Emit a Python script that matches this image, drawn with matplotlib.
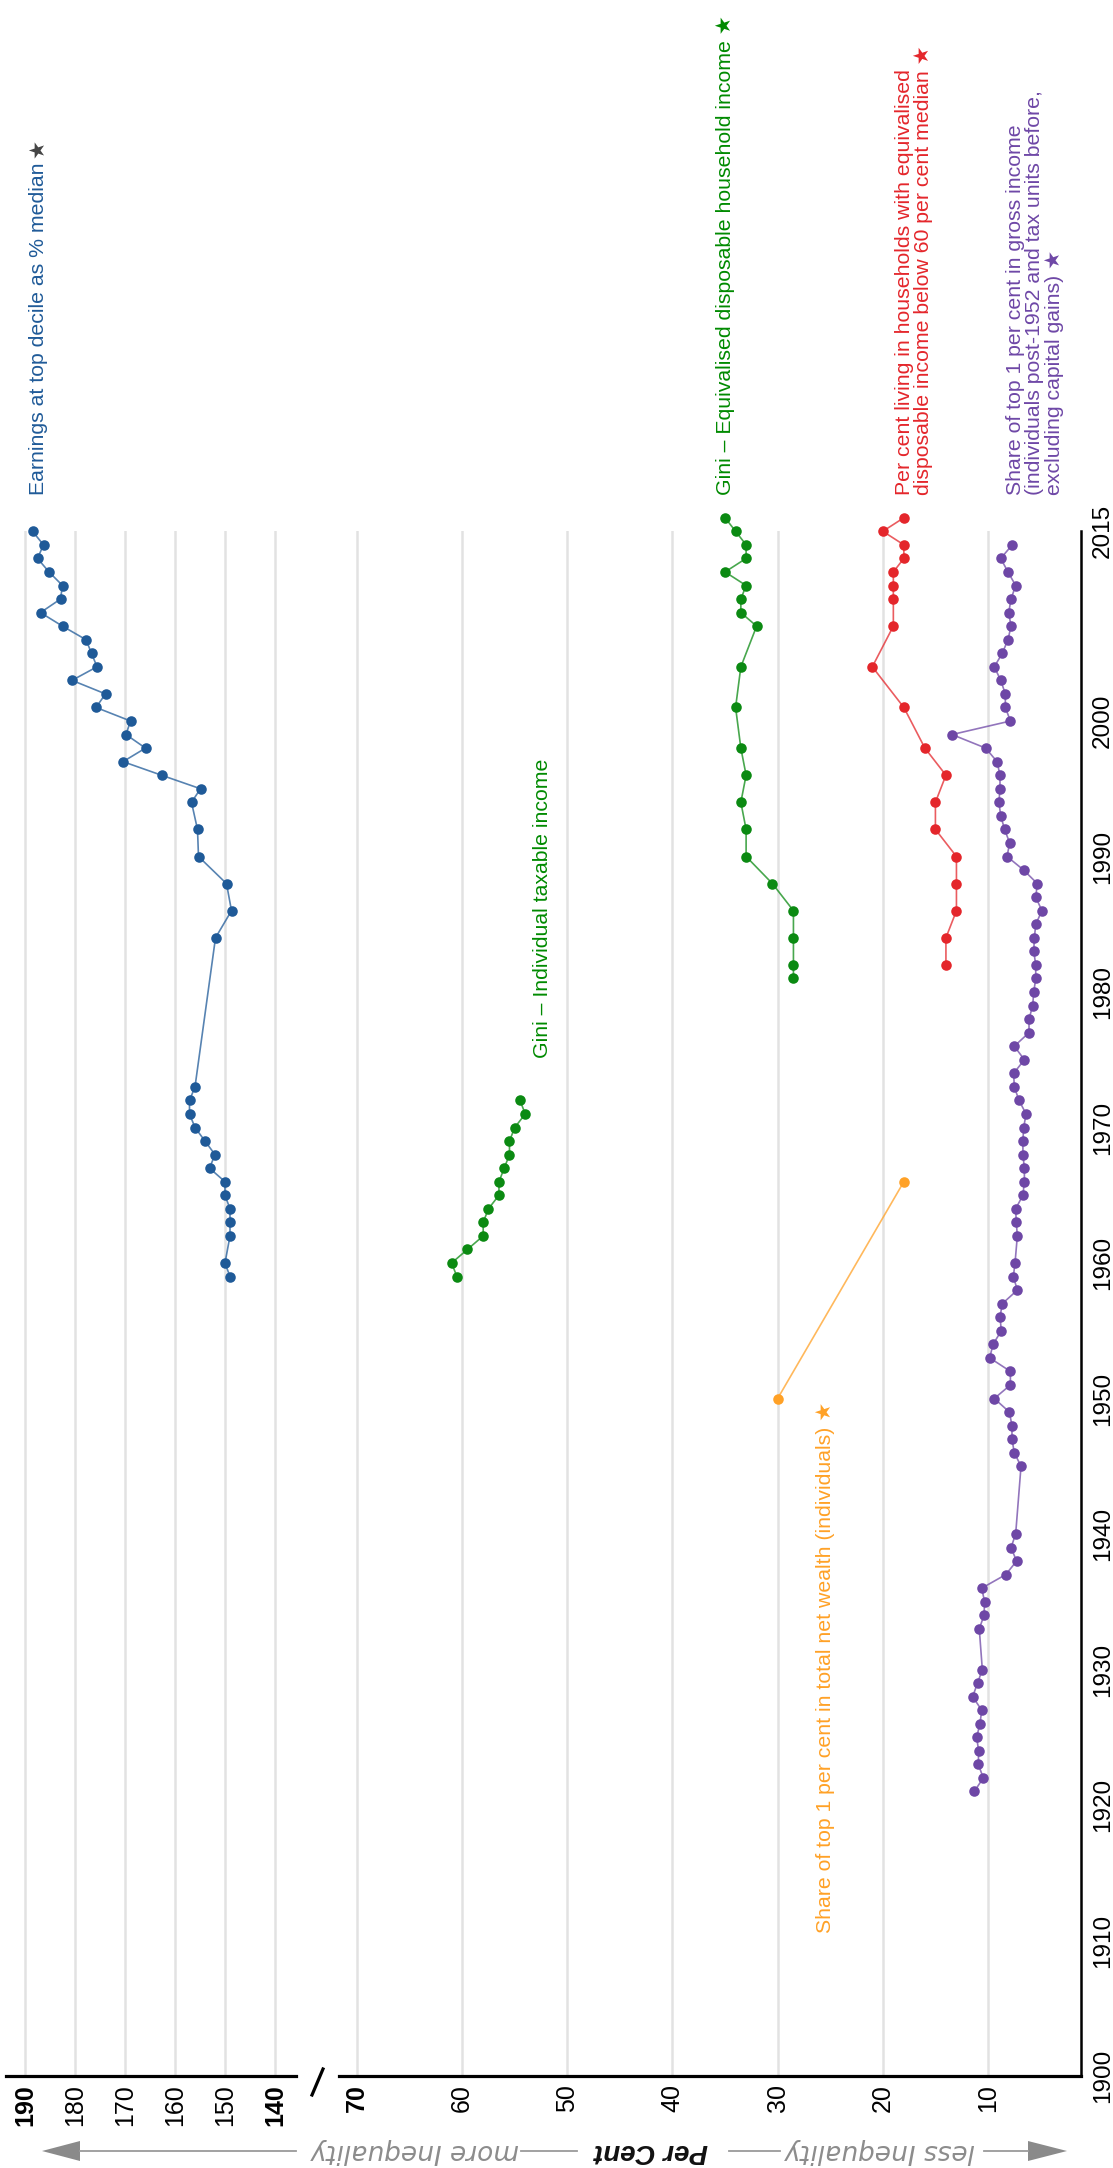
import matplotlib
matplotlib.use("Agg")
import matplotlib.pyplot as plt
from matplotlib.lines import Line2D
from matplotlib.patches import Polygon

plt.rcParams['font.family'] = ['Liberation Sans', 'DejaVu Sans']

# ---------------- data ----------------
blue_years = [1959, 1960, 1962, 1963, 1964, 1965, 1966, 1967, 1968, 1969, 1970, 1971, 1972, 1973,
              1984, 1986, 1988, 1990, 1992, 1994, 1995, 1996, 1997, 1998, 1999, 2000, 2001, 2002,
              2003, 2004, 2005, 2006, 2007, 2008, 2009, 2010, 2011, 2012, 2013, 2014]
blue_vals = [149.0, 150.0, 149.0, 149.0, 149.0, 150.0, 150.0, 153.1, 152.0, 154.0, 156.0, 157.1, 157.1, 156.0,
             151.9, 148.7, 149.7, 155.3, 155.5, 156.7, 154.9, 162.7, 170.4, 165.9, 169.8, 168.9, 175.8, 173.9,
             180.6, 175.6, 176.7, 177.8, 182.5, 186.9, 182.9, 182.5, 185.2, 187.5, 186.3, 188.5]

gini_ind_years = [1959, 1960, 1961, 1962, 1963, 1964, 1965, 1966, 1967, 1968, 1969, 1970, 1971, 1972]
gini_ind_vals = [60.5, 61.0, 59.5, 58.0, 58.0, 57.5, 56.5, 56.5, 56.0, 55.5, 55.5, 55.0, 54.0, 54.5]

gini_eq_years = [1981, 1982, 1984, 1986, 1988, 1990, 1992, 1994, 1996, 1998, 2001, 2004, 2007, 2008,
                 2009, 2010, 2011, 2012, 2013, 2014, 2015]
gini_eq_vals = [28.5, 28.5, 28.5, 28.5, 30.5, 33.0, 33.0, 33.5, 33.0, 33.5, 34.0, 33.5, 32.0, 33.5,
                33.5, 33.0, 35.0, 33.0, 33.0, 34.0, 35.0]

pov_years = [1982, 1984, 1986, 1988, 1990, 1992, 1994, 1996, 1998, 2001, 2004, 2007, 2009, 2010,
             2011, 2012, 2013, 2014, 2015]
pov_vals = [14, 14, 13, 13, 13, 15, 15, 14, 16, 18, 21, 19, 19, 19, 19, 18, 18, 20, 18]

wealth_years = [1950, 1966]
wealth_vals = [30.0, 18.0]

top1_years = [1921, 1922, 1923, 1924, 1925, 1926, 1927, 1928, 1929, 1930,
              1933, 1934, 1935, 1936, 1937, 1938, 1939, 1940,
              1945, 1946, 1947, 1948, 1949, 1950, 1951, 1952, 1953, 1954, 1955, 1956, 1957, 1958, 1959, 1960,
              1962, 1963, 1964, 1965, 1966, 1967, 1968, 1969, 1970, 1971, 1972, 1973, 1974, 1975, 1976,
              1977, 1978, 1979, 1980, 1981, 1982, 1983, 1984, 1985, 1986, 1987, 1988, 1989, 1990,
              1991, 1992, 1993, 1994, 1995, 1996, 1997, 1998, 1999, 2000, 2001, 2002, 2003, 2004,
              2005, 2006, 2007, 2008, 2009, 2010, 2011, 2012, 2013]
top1_vals = [11.3, 10.45, 10.92, 10.89, 11.08, 10.76, 10.6, 11.46, 10.99, 10.54,
             10.83, 10.38, 10.32, 10.6, 8.32, 7.28, 7.81, 7.37,
             6.86, 7.5, 7.72, 7.72, 7.97, 9.4, 7.87, 7.87, 9.84, 9.52, 8.73, 8.86, 8.64, 7.21, 7.59, 7.43,
             7.21, 7.31, 7.37, 6.68, 6.54, 6.54, 6.68, 6.68, 6.61, 6.38, 7.05, 7.5, 7.56, 6.54, 7.5,
             6.1, 6.1, 5.75, 5.65, 5.46, 5.46, 5.65, 5.59, 5.46, 4.87, 5.46, 5.31, 6.61, 8.19,
             7.94, 8.42, 8.79, 8.96, 8.86, 8.86, 9.14, 10.22, 13.42, 7.87, 8.35, 8.35, 8.79, 9.4,
             8.64, 8.1, 7.81, 8.03, 7.81, 7.37, 8.1, 8.79, 7.69]

upper_ticks = [190, 180, 170, 160, 150, 140]
lower_ticks = [70, 60, 50, 40, 30, 20, 10]
year_ticks = [1900, 1910, 1920, 1930, 1940, 1950, 1960, 1970, 1980, 1990, 2000]
year_labels = [str(y) for y in year_ticks]
end_year_label = "2015"

# ---------------- colours ----------------
C_BLUE = '#1f5a98'
C_GREEN = '#0b8a12'
C_GREEN_T = '#008a00'
C_RED = '#e4262b'
C_PURPLE = '#6e47a6'
C_ORANGE = '#ffa126'
C_GRID = '#e2e2e2'
C_AXTXT = '#8c8c8c'

W, H = 1113, 2168
fig = plt.figure(figsize=(W / 100, H / 100), dpi=100)


def fx(px):
    return px / W


def fy(py):
    return 1 - py / H


AX_BOT, AX_TOP = 2076.0, 531.3
YLIM = (1900, 2014)
hgt = (AX_BOT - AX_TOP) / H
axL = fig.add_axes([fx(6), fy(AX_BOT), fx(296) - fx(6), hgt])
axR = fig.add_axes([fx(339), fy(AX_BOT), fx(1081) - fx(339), hgt])
axL.set_xlim(193.8, 135.8)
axR.set_xlim(71.71, 1.157)

for ax in (axL, axR):
    ax.set_ylim(*YLIM)
    ax.set_facecolor('none')
    ax.grid(axis='x', color=C_GRID, lw=1.8)
    ax.set_axisbelow(True)
    for s in ('top', 'left'):
        ax.spines[s].set_visible(False)
    ax.spines['bottom'].set_linewidth(2.3)
    ax.spines['bottom'].set_color('black')
    ax.tick_params(axis='x', length=0, pad=6, labelsize=18, labelcolor='black')

axL.spines['right'].set_visible(False)
axL.tick_params(axis='y', left=False, right=False, labelleft=False, labelright=False)
axL.set_xticks(upper_ticks, labels=[str(t) for t in upper_ticks])
axR.set_xticks(lower_ticks, labels=[str(t) for t in lower_ticks])
for lab in axL.get_xticklabels() + axR.get_xticklabels():
    lab.set_rotation(90)
    lab.set_va('top')
    lab.set_ha('center')
    if lab.get_text() in ('190', '140', '70'):
        lab.set_fontweight('bold')

axR.spines['right'].set_linewidth(1.8)
axR.spines['right'].set_color('black')
axR.yaxis.tick_right()
axR.set_yticks(year_ticks + [YLIM[1]], labels=year_labels + [end_year_label])
axR.tick_params(axis='y', length=0, pad=8, labelsize=17.5, left=False)
for lab in axR.get_yticklabels():
    lab.set_rotation(90)
    lab.set_va('center')
    lab.set_ha('left')


def series(ax, xs, ys, color):
    ax.plot(xs, ys, '-', color=color, lw=1.2, alpha=0.75, clip_on=False, zorder=3)
    ax.plot(xs, ys, 'o', color=color, ms=7.6, mew=0, clip_on=False, zorder=4)


series(axL, blue_vals, blue_years, C_BLUE)
series(axR, gini_ind_vals, gini_ind_years, C_GREEN)
series(axR, gini_eq_vals, gini_eq_years, C_GREEN)
series(axR, pov_vals, pov_years, C_RED)
series(axR, wealth_vals, wealth_years, C_ORANGE)
series(axR, top1_vals, top1_years, C_PURPLE)

# ---------------- series labels ----------------
LFS = 15.3
lab_kw = dict(rotation=90, rotation_mode='anchor', ha='left', va='center',
              fontsize=LFS, linespacing=1.0)
t_blue = fig.text(fx(38), fy(495), 'Earnings at top decile as % median', color=C_BLUE, **lab_kw)
axL.annotate('\u2605', xy=(0.5, 1.0), xycoords=t_blue, xytext=(0, 3), textcoords='offset points',
             rotation=90, ha='center', va='bottom', fontsize=LFS, color='#444444',
             annotation_clip=False)
fig.text(fx(725), fy(495), 'Gini \u2013 Equivalised disposable household income \u2605', color=C_GREEN_T, **lab_kw)
fig.text(fx(914), fy(495), 'Per cent living in households with equivalised\n'
         'disposable income below 60 per cent median \u2605', color=C_RED, **lab_kw)
fig.text(fx(1035), fy(495), 'Share of top 1 per cent in gross income\n'
         '(individuals post-1952 and tax units before,\nexcluding capital gains) \u2605',
         color=C_PURPLE, **lab_kw)
fig.text(fx(542), fy(1058), 'Gini \u2013 Individual taxable income', color=C_GREEN_T, **lab_kw)
# wealth label ends (with its star) just beside the first wealth point
end_kw = dict(lab_kw)
end_kw['ha'] = 'right'
fig.text(fx(825), fy(1402), 'Share of top 1 per cent in total net wealth (individuals) \u2605',
         color=C_ORANGE, **end_kw)

# ---------------- axis break ----------------
fig.add_artist(Line2D([fx(312), fx(323)], [fy(2095), fy(2069)], color='black', lw=2.3))

# ---------------- bottom annotation row ----------------
ROW = 2151
for a, b in [(80, 296), (521, 577), (729, 780), (984, 1028)]:
    fig.add_artist(Line2D([fx(a), fx(b)], [fy(ROW), fy(ROW)], color='#9a9a9a', lw=1.3))
fig.add_artist(Polygon([[fx(42), fy(ROW)], [fx(80), fy(ROW - 10)], [fx(80), fy(ROW + 10)]],
                       closed=True, color='#8a8a8a', lw=0))
fig.add_artist(Polygon([[fx(1067), fy(ROW)], [fx(1028), fy(ROW - 10)], [fx(1028), fy(ROW + 10)]],
                       closed=True, color='#8a8a8a', lw=0))
fig.text(fx(415), fy(ROW), 'more Inequality', rotation=180, ha='center', va='center',
         fontsize=19, color=C_AXTXT, family='DejaVu Sans', style='italic')
fig.text(fx(879.5), fy(ROW), 'less Inequality', rotation=180, ha='center', va='center',
         fontsize=19, color=C_AXTXT, family='DejaVu Sans', style='italic')
fig.text(fx(650.5), fy(ROW), 'Per Cent', rotation=180, ha='center', va='center',
         fontsize=20, color='#111111', fontweight='bold', style='italic')

fig.savefig('out.png', dpi=100, facecolor='white')
